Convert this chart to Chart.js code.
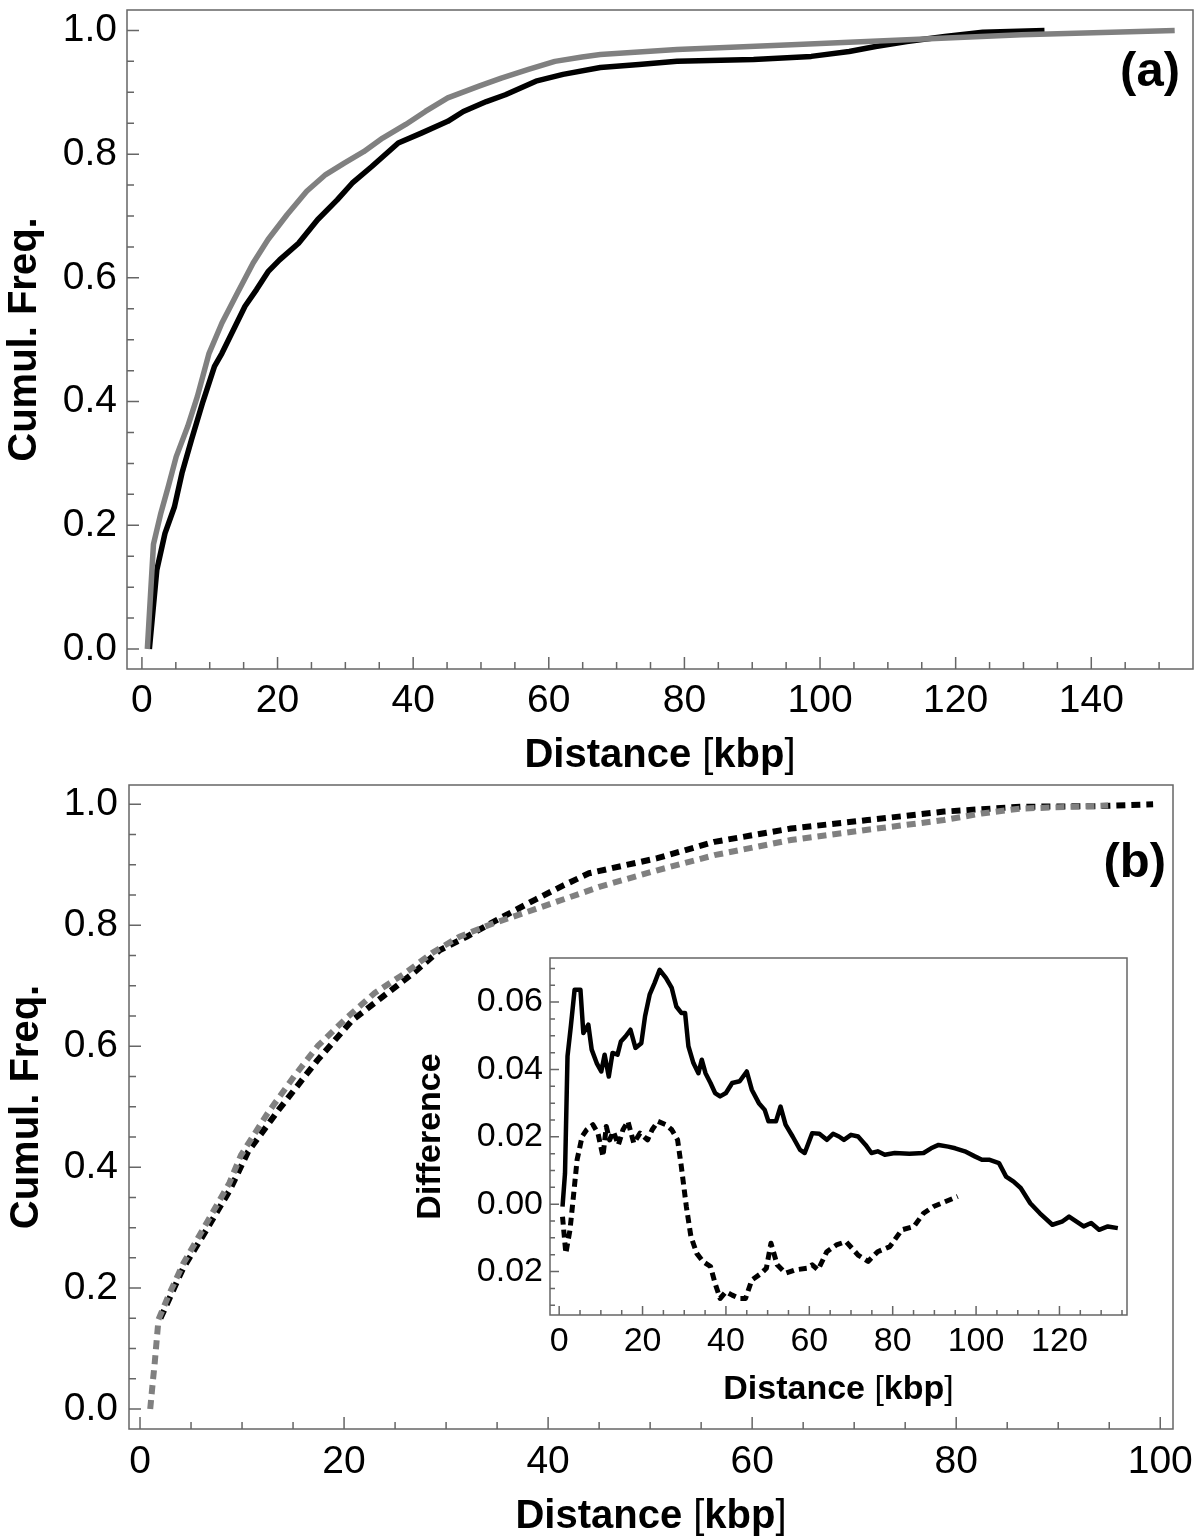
<!DOCTYPE html>
<html>
<head>
<meta charset="utf-8">
<script src="https://cdn.jsdelivr.net/npm/chart.js@4.4.1/dist/chart.umd.min.js"></script>
<style>
    body { margin: 0; background: #fff; }
    #wrap { position: relative; width: 1200px; height: 1538px; }
    canvas { position: absolute; }
    #chart-a { left: 0; top: 0; }
    #chart-b { left: 0; top: 780px; }
    #chart-inset { left: 400px; top: 940px; }
</style>
</head>
<body>
<div id="wrap">
    <canvas id="chart-a" width="1200" height="780"></canvas>
    <canvas id="chart-b" width="1200" height="758"></canvas>
    <canvas id="chart-inset" width="750" height="480"></canvas>
</div>
<script>
// Panel (a): cumulative frequency, solid lines
const aBlackX = [1.1, 2.2, 3.4, 4.8, 5.9, 7.3, 9.0, 10.7, 11.8, 13.5, 15.2, 16.9, 18.6, 20.3, 23.1, 25.9, 28.8, 31.0, 33.9, 37.8, 41.2, 45.1, 47.4, 50.8, 53.6, 58.1, 62.1, 67.6, 73.3, 78.9, 90.2, 98.7, 104.3, 108.2, 112.8, 118.4, 124.0, 133.1];
const aBlackY = [0.0, 0.128, 0.187, 0.23, 0.284, 0.338, 0.40, 0.457, 0.478, 0.516, 0.554, 0.581, 0.61, 0.629, 0.656, 0.694, 0.726, 0.753, 0.78, 0.818, 0.834, 0.853, 0.869, 0.885, 0.896, 0.918, 0.929, 0.94, 0.945, 0.95, 0.953, 0.958, 0.966, 0.974, 0.982, 0.99, 0.997, 1.0];
const aGrayX = [0.8, 1.7, 2.8, 3.9, 5.06, 6.76, 8.17, 9.9, 11.8, 14.1, 16.4, 18.6, 21.4, 24.3, 27.1, 29.9, 32.7, 35.5, 38.9, 41.8, 45.1, 49.7, 53.0, 57.0, 60.9, 64.9, 67.6, 78.9, 95.8, 112.8, 129.7, 152.3];
const aGrayY = [0.0, 0.169, 0.22, 0.263, 0.311, 0.36, 0.408, 0.478, 0.527, 0.576, 0.624, 0.662, 0.702, 0.74, 0.767, 0.786, 0.804, 0.826, 0.848, 0.869, 0.891, 0.91, 0.923, 0.937, 0.95, 0.957, 0.961, 0.969, 0.977, 0.985, 0.993, 1.0];

// Panel (b): cumulative frequency, dashed lines
const bBlackX = [2.0, 4.2, 6.5, 8.8, 10.6, 13.6, 17.4, 20.8, 23.8, 26.8, 29.4, 32.0, 35.0, 38.8, 41.5, 44.0, 50.7, 56.3, 63.8, 71.3, 78.8, 86.3, 93.8, 99.3];
const bBlackY = [0.15, 0.232, 0.296, 0.362, 0.426, 0.495, 0.577, 0.643, 0.682, 0.721, 0.759, 0.781, 0.809, 0.843, 0.866, 0.886, 0.911, 0.938, 0.96, 0.974, 0.988, 0.996, 0.997, 1.0];
const bGrayX = [1.0, 1.27, 1.44, 1.81, 2.75, 4.25, 5.75, 7.25, 8.76, 9.9, 12.5, 15.1, 17.4, 20.0, 23.0, 26.0, 28.6, 31.3, 34.6, 38.8, 45.1, 50.7, 56.3, 63.8, 71.3, 78.8, 82.5, 86.3, 94.9];
const bGrayY = [0.0, 0.048, 0.076, 0.148, 0.186, 0.241, 0.285, 0.329, 0.374, 0.42, 0.489, 0.55, 0.6, 0.643, 0.688, 0.721, 0.754, 0.781, 0.803, 0.827, 0.864, 0.891, 0.916, 0.941, 0.958, 0.974, 0.985, 0.993, 0.998];

// Inset: difference curves
const inSolidX = [0.8, 1.4, 2.0, 2.8, 3.7, 5.1, 5.8, 7.0, 7.8, 9.0, 10.1, 10.9, 11.9, 12.8, 14.0, 14.8, 15.9, 17.1, 18.3, 19.7, 20.6, 21.7, 22.9, 24.1, 25.6, 27.0, 28.1, 29.3, 30.2, 31.0, 32.2, 33.4, 34.2, 35.1, 36.3, 37.4, 38.6, 40.0, 41.5, 43.3, 45.0, 46.2, 47.9, 49.3, 50.2, 52.0, 53.1, 54.3, 56.0, 57.8, 58.9, 60.7, 62.4, 64.2, 65.7, 67.1, 68.3, 70.0, 71.7, 73.5, 74.9, 76.4, 78.1, 80.5, 84.0, 87.4, 89.2, 91.0, 93.3, 95.0, 97.3, 99.7, 101.4, 103.1, 105.5, 107.2, 109.0, 110.7, 113.0, 115.3, 118.3, 120.6, 122.3, 124.1, 125.8, 127.6, 129.5, 131.6, 134.0];
const inSolidY = [-0.0007, 0.0092, 0.0439, 0.0528, 0.0637, 0.0637, 0.0508, 0.0533, 0.0459, 0.0419, 0.0394, 0.0444, 0.0379, 0.0449, 0.0444, 0.0483, 0.0498, 0.0518, 0.0464, 0.0478, 0.0558, 0.0622, 0.0657, 0.0696, 0.0672, 0.0642, 0.0587, 0.0568, 0.0568, 0.0469, 0.0419, 0.0389, 0.0429, 0.0389, 0.036, 0.033, 0.032, 0.033, 0.036, 0.0365, 0.0394, 0.034, 0.030, 0.028, 0.0246, 0.0246, 0.029, 0.0236, 0.0201, 0.0161, 0.0152, 0.0211, 0.0209, 0.0191, 0.0209, 0.0201, 0.0191, 0.0206, 0.0201, 0.0176, 0.0152, 0.0157, 0.0147, 0.0152, 0.015, 0.0152, 0.0166, 0.0176, 0.0171, 0.0166, 0.0157, 0.0142, 0.0132, 0.0132, 0.0122, 0.0082, 0.0067, 0.0048, 0.0003, -0.0027, -0.0061, -0.0052, -0.0037, -0.0052, -0.0066, -0.0056, -0.0076, -0.0066, -0.0071];
const inDashX = [0.8, 1.6, 2.6, 3.5, 4.3, 5.5, 6.6, 8.1, 9.3, 10.5, 11.3, 12.1, 13.0, 14.2, 15.3, 16.5, 17.9, 19.4, 21.2, 22.3, 23.7, 25.6, 27.0, 28.4, 29.3, 30.5, 31.6, 33.0, 34.5, 36.3, 37.4, 38.6, 40.0, 41.5, 43.3, 44.7, 46.2, 48.5, 49.7, 50.8, 52.3, 54.3, 56.6, 59.5, 60.7, 62.1, 64.2, 66.5, 68.8, 71.7, 74.1, 76.4, 79.3, 82.2, 85.1, 87.4, 89.8, 92.7, 95.6];
const inDashY = [-0.0037, -0.0146, -0.0076, 0.0033, 0.0132, 0.0201, 0.0221, 0.0236, 0.0211, 0.0142, 0.0231, 0.0191, 0.0216, 0.0176, 0.0221, 0.0246, 0.0181, 0.0211, 0.0191, 0.0221, 0.0246, 0.0236, 0.0221, 0.0191, 0.0112, -0.0007, -0.0096, -0.0146, -0.017, -0.0185, -0.0235, -0.028, -0.026, -0.027, -0.028, -0.028, -0.0225, -0.0205, -0.019, -0.0116, -0.018, -0.0205, -0.0195, -0.019, -0.018, -0.0195, -0.0141, -0.0121, -0.0111, -0.0151, -0.017, -0.0141, -0.0126, -0.0076, -0.0066, -0.0027, -0.0007, 0.0008, 0.0023];

// x axis title pieces: bold words, thin brackets
const xTitleParts = [['Distance ', 'bold'], ['[', 'normal'], ['kbp', 'bold'], [']', 'normal']];

const FONT = "'Liberation Sans', Arial, Helvetica, sans-serif";
Chart.defaults.font.family = FONT;
Chart.defaults.color = '#000';

function points(xs, ys) {
    return xs.map((x, i) => ({ x: x, y: ys[i] }));
}

function isStep(v, step) {
    const r = v / step;
    return Math.abs(r - Math.round(r)) < 1e-6;
}

// Fixed axis box, without the label overhang padding Chart.js adds
function fixBox(s, w, h) {
    if (w) s.width = w;
    if (h) s.height = h;
    s.paddingTop = 0;
    s.paddingBottom = 0;
    s.paddingLeft = 0;
    s.paddingRight = 0;
}

// Mathematica-style frame with ticks pointing inward, x title and panel tag
const frameTicks = {
    id: 'frameTicks',
    afterDraw(chart, args, opts) {
        const { ctx, chartArea: a, scales: { x, y } } = chart;
        ctx.save();
        ctx.strokeStyle = opts.color;
        ctx.lineWidth = opts.lineWidth;
        ctx.strokeRect(a.left, a.top, a.right - a.left, a.bottom - a.top);
        ctx.beginPath();
        x.ticks.forEach(t => {
            const px = x.getPixelForValue(t.value);
            if (px <= a.left + 1 || px >= a.right - 1) return;
            const len = isStep(t.value, opts.xMajor) ? opts.major : opts.minor;
            ctx.moveTo(px, a.bottom);
            ctx.lineTo(px, a.bottom - len);
        });
        y.ticks.forEach(t => {
            const py = y.getPixelForValue(t.value);
            if (py <= a.top + 1 || py >= a.bottom - 1) return;
            const len = isStep(t.value, opts.yMajor) ? opts.major : opts.minor;
            ctx.moveTo(a.left, py);
            ctx.lineTo(a.left + len, py);
        });
        ctx.stroke();

        // axis title with mixed weights
        ctx.fillStyle = '#000';
        ctx.textBaseline = 'middle';
        ctx.textAlign = 'left';
        const fontFor = w => w + ' ' + opts.titleSize + 'px ' + FONT;
        let total = 0;
        xTitleParts.forEach(p => { ctx.font = fontFor(p[1]); total += ctx.measureText(p[0]).width; });
        let tx = (a.left + a.right) / 2 - total / 2;
        const ty = chart.height - opts.titleUp;
        xTitleParts.forEach(p => {
            ctx.font = fontFor(p[1]);
            ctx.fillText(p[0], tx, ty);
            tx += ctx.measureText(p[0]).width;
        });

        if (opts.tag) {
            ctx.font = 'bold 49px ' + FONT;
            ctx.textAlign = 'right';
            ctx.fillText(opts.tag, a.right - opts.tagRight, a.top + opts.tagDown);
        }
        ctx.restore();
    }
};

function makeChart(id, cfg) {
    const ctx = document.getElementById(id).getContext('2d');
    return new Chart(ctx, {
        type: 'line',
        data: { datasets: cfg.datasets },
        options: {
            responsive: false,
            animation: false,
            devicePixelRatio: 1,
            layout: { autoPadding: false, padding: cfg.padding },
            plugins: {
                legend: { display: false },
                tooltip: { enabled: false },
                frameTicks: cfg.frame
            },
            elements: { point: { radius: 0 }, line: { tension: 0 } },
            scales: {
                x: {
                    type: 'linear',
                    min: cfg.xMin, max: cfg.xMax,
                    border: { display: false },
                    grid: { display: false, drawTicks: false },
                    ticks: {
                        stepSize: cfg.xStep, includeBounds: false, autoSkip: false,
                        maxRotation: 0, maxTicksLimit: 200,
                        padding: cfg.xPad,
                        font: { size: cfg.tickSize, lineHeight: 1 },
                        callback: v => isStep(v, cfg.frame.xMajor) ? String(Math.round(v)) : ''
                    },
                    title: { display: false },
                    afterFit: s => fixBox(s, 0, cfg.xHeight)
                },
                y: {
                    type: 'linear',
                    min: cfg.yMin, max: cfg.yMax,
                    border: { display: false },
                    grid: { display: false, drawTicks: false },
                    ticks: {
                        stepSize: cfg.yStep, includeBounds: false, autoSkip: false,
                        maxTicksLimit: 200,
                        padding: cfg.yPad,
                        font: { size: cfg.tickSize, lineHeight: 1 },
                        callback: v => isStep(v, cfg.frame.yMajor) ? Math.abs(v).toFixed(cfg.yDigits) : ''
                    },
                    title: {
                        display: true, text: cfg.yTitle,
                        font: { size: cfg.frame.titleSize, weight: 'bold', lineHeight: 1 },
                        padding: { top: cfg.yTitlePad, bottom: 0 }
                    },
                    afterFit: s => fixBox(s, cfg.yWidth, 0)
                }
            }
        },
        plugins: [frameTicks]
    });
}

function line(data, color, width, dash, order) {
    return {
        data: data,
        borderColor: color,
        borderWidth: width,
        borderDash: dash,
        borderCapStyle: 'butt',
        borderJoinStyle: 'round',
        fill: false,
        order: order
    };
}

document.addEventListener('DOMContentLoaded', function() {
    makeChart('chart-a', {
        datasets: [
            line(points(aGrayX, aGrayY), '#808080', 5.5, [], 0),
            line(points(aBlackX, aBlackY), '#000000', 5.5, [], 1)
        ],
        padding: { left: 0, right: 7, top: 10, bottom: 0 },
        xMin: -2.2, xMax: 155.0, xStep: 5,
        yMin: -0.0323, yMax: 1.033, yStep: 0.05, yDigits: 1,
        xHeight: 111, yWidth: 127,
        xPad: 13, yPad: 10, yTitlePad: 5,
        tickSize: 39,
        yTitle: 'Cumul. Freq.',
        frame: { color: '#666', lineWidth: 1.5, major: 12, minor: 7, xMajor: 20, yMajor: 0.2,
                 titleSize: 40, titleUp: 24,
                 tag: '(a)', tagRight: 13, tagDown: 62 }
    });

    makeChart('chart-b', {
        datasets: [
            line(points(bGrayX, bGrayY), '#808080', 6, [9, 6], 0),
            line(points(bBlackX, bBlackY), '#000000', 6, [9, 6], 1)
        ],
        padding: { left: 0, right: 27, top: 5, bottom: 0 },
        xMin: -1.08, xMax: 101.25, xStep: 5,
        yMin: -0.033, yMax: 1.032, yStep: 0.05, yDigits: 1,
        xHeight: 109, yWidth: 129,
        xPad: 14, yPad: 11, yTitlePad: 7,
        tickSize: 39,
        yTitle: 'Cumul. Freq.',
        frame: { color: '#666', lineWidth: 1.5, major: 12, minor: 7, xMajor: 20, yMajor: 0.2,
                 titleSize: 40, titleUp: 21,
                 tag: '(b)', tagRight: 7, tagDown: 78 }
    });

    makeChart('chart-inset', {
        datasets: [
            line(points(inSolidX, inSolidY), '#000000', 4.5, [], 0),
            line(points(inDashX, inDashY), '#000000', 5, [8, 5], 1)
        ],
        padding: { left: 0, right: 23, top: 18, bottom: 0 },
        xMin: -2.2, xMax: 136.2, xStep: 5,
        yMin: -0.0329, yMax: 0.0731, yStep: 0.005, yDigits: 2,
        xHeight: 105, yWidth: 150,
        xPad: 10, yPad: 7, yTitlePad: 14,
        tickSize: 34,
        yTitle: 'Difference',
        frame: { color: '#666', lineWidth: 1.5, major: 9, minor: 5, xMajor: 20, yMajor: 0.02,
                 titleSize: 34, titleUp: 30,
                 tag: '', tagRight: 0, tagDown: 0 }
    });
});
</script>
</body>
</html>
